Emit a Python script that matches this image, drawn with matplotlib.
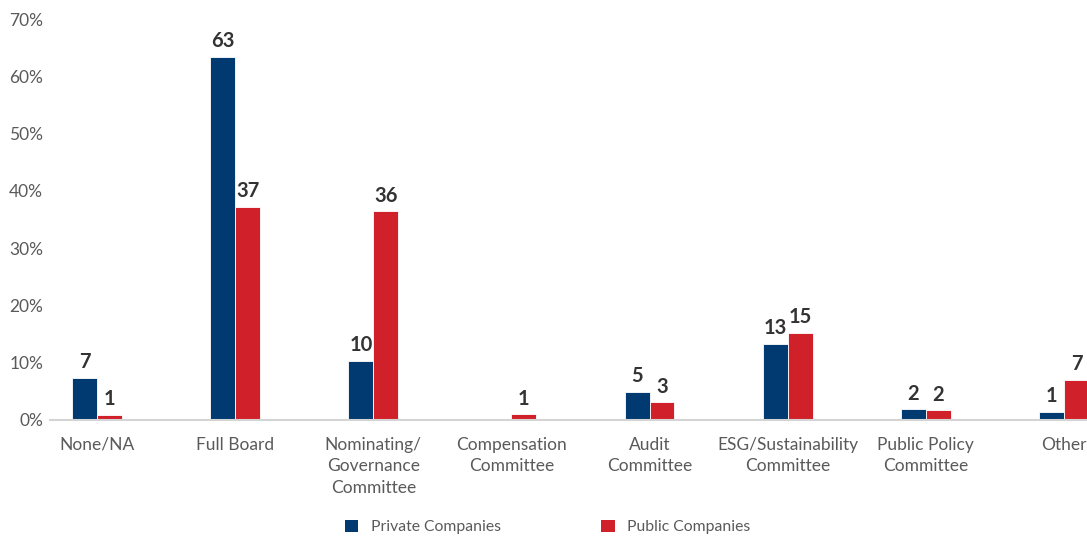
import matplotlib
matplotlib.use("Agg")
import matplotlib.pyplot as plt
from matplotlib.patches import Patch

categories = ["None/NA", "Full Board", "Nominating/\nGovernance\nCommittee",
              "Compensation\nCommittee", "Audit\nCommittee",
              "ESG/Sustainability\nCommittee", "Public Policy\nCommittee", "Other"]
private_vals = [7.4, 63.4, 10.3, 0.0, 4.9, 13.3, 1.9, 1.4]
public_vals = [0.9, 37.2, 36.4, 1.0, 3.1, 15.2, 1.7, 7.0]
series_names = ["Private Companies", "Public Companies"]
yticks = [0, 10, 20, 30, 40, 50, 60, 70]

NAVY = "#003A70"
RED = "#D0202A"
TICK_GREY = "#5a5a5a"
LABEL_DARK = "#333333"

plt.rcParams["font.family"] = ["Lato", "DejaVu Sans"]

fig = plt.figure(figsize=(10.87, 5.36), dpi=100)
ax = fig.add_axes([50 / 1087, 1 - 420 / 536, 1 - 50 / 1087, (420 - 19) / 536])

w = 0.18
x = list(range(len(categories)))
bars_priv = ax.bar([i - w / 2 for i in x], private_vals, width=w, color=NAVY,
                   edgecolor="white", linewidth=0.6)
bars_pub = ax.bar([i + w / 2 for i in x], public_vals, width=w, color=RED,
                  edgecolor="white", linewidth=0.6)

for bars, vals in ((bars_priv, private_vals), (bars_pub, public_vals)):
    for b, v in zip(bars, vals):
        if v <= 0:
            continue
        ax.annotate(f"{round(v):d}", (b.get_x() + b.get_width() / 2, v),
                    xytext=(0, 4), textcoords="offset points",
                    ha="center", va="bottom", fontsize=14.5, fontweight="bold",
                    color=LABEL_DARK)

ax.set_xlim(-0.34, 7.166)
ax.set_ylim(0, 70)
ax.set_yticks(yticks)
ax.set_yticklabels([f"{t}%" for t in yticks], fontsize=12.5, color=TICK_GREY)
ax.set_xticks(x)
ax.set_xticklabels(categories, fontsize=12.5, color=TICK_GREY, linespacing=1.42)
ax.tick_params(axis="both", length=0)
ax.tick_params(axis="x", pad=12)
ax.tick_params(axis="y", pad=5)

for s in ("top", "right", "left"):
    ax.spines[s].set_visible(False)
ax.spines["bottom"].set_color("#d4d4d4")
ax.spines["bottom"].set_linewidth(1.5)

handles = [Patch(facecolor=NAVY, label=series_names[0]),
           Patch(facecolor=RED, label=series_names[1])]
leg = fig.legend(handles=handles, loc="center left", ncol=2,
                 bbox_to_anchor=(331 / 1087, 1 - 527 / 536), frameon=False,
                 fontsize=11.3, handlelength=0.85, handleheight=0.85,
                 handletextpad=0.8, columnspacing=6.4)
for t in leg.get_texts():
    t.set_color(TICK_GREY)

fig.savefig("out.png", dpi=100)
